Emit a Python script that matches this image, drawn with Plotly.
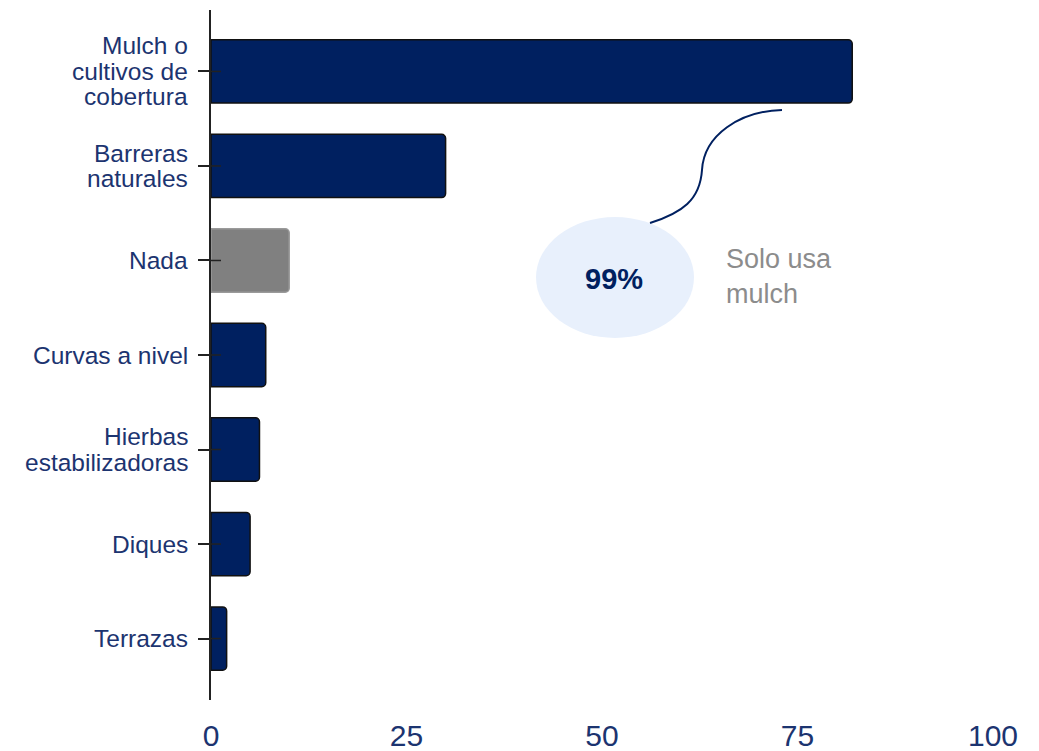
import plotly.graph_objects as go

categories = ["Mulch o<br>cultivos de<br>cobertura", "Barreras<br>naturales", "Nada",
              "Curvas a nivel", "Hierbas<br>estabilizadoras", "Diques", "Terrazas"]
values = [82, 30, 10, 7, 6.2, 5, 2]
bar_colors = ["#002060", "#002060", "#808080", "#002060", "#002060", "#002060", "#002060"]
bar_lines = ["#111111", "#111111", "#9a9a9a", "#111111", "#111111", "#111111", "#111111"]
x_ticks = [0, 25, 50, 75, 100]
callout_value = "99%"
callout_text = "Solo usa<br>mulch"

NAVY = "#1c3470"
FONT = "Liberation Sans, Arial, sans-serif"

fig = go.Figure()
fig.add_trace(go.Bar(
    x=values, y=categories, orientation="h",
    width=0.67,
    marker=dict(color=bar_colors, line=dict(color=bar_lines, width=1.5), cornerradius=4),
    showlegend=False, hoverinfo="skip",
))

OFF = 8  # page offset of the figure inside the browser window
W, H = 1039, 751
L, R, T, B = 203, 54, 2, 59
pw = W - L - R
ph = H - T - B

def px(x):
    return (x - OFF - L) / pw

def py(y):
    return 1 - (y - OFF - T) / ph

shapes = []
# inner half of the crossing tick marks
for c in categories:
    shapes.append(dict(type="line", xref="paper", yref="y", x0=0, x1=10 / pw, y0=c, y1=c,
                       line=dict(color="#222222", width=1.5), layer="above"))

# callout ellipse
shapes.append(dict(type="circle", xref="paper", yref="paper",
                   x0=px(536), x1=px(694), y0=py(338), y1=py(217),
                   fillcolor="#e8f0fc", line=dict(width=0), layer="below"))
# connector curve
path = "M {},{} C {},{} {},{} {},{} C {},{} {},{} {},{}".format(
    px(782), py(110), px(740), py(111), px(704), py(135), px(702), py(170),
    px(700), py(200), px(682), py(213), px(650), py(223))
shapes.append(dict(type="path", xref="paper", yref="paper", path=path,
                   line=dict(color="#002060", width=2)))

annotations = [
    dict(xref="paper", yref="paper", x=px(614), y=py(279), text="<b>" + callout_value + "</b>",
         showarrow=False, font=dict(family=FONT, size=29, color="#002060"),
         xanchor="center", yanchor="middle"),
    dict(xref="paper", yref="paper", x=px(724), y=py(276), text=callout_text,
         showarrow=False, font=dict(family=FONT, size=27, color="#8c8c8c"),
         xanchor="left", yanchor="middle", align="left"),
]

# category labels, one annotation per line for tight line spacing
LINE_H = 25.5
for c in categories:
    parts = c.split("<br>")
    n = len(parts)
    for i, part in enumerate(parts):
        annotations.append(dict(
            xref="paper", yref="y", x=0, y=c, text=part, showarrow=False,
            xanchor="right", yanchor="middle", xshift=-21,
            yshift=((n - 1) / 2 - i) * LINE_H,
            font=dict(family=FONT, size=24.5, color=NAVY)))

fig.update_layout(
    width=W, height=H,
    margin=dict(l=L, r=R, t=T, b=B, autoexpand=False),
    paper_bgcolor="white", plot_bgcolor="white",
    font=dict(family=FONT, color=NAVY),
    shapes=shapes, annotations=annotations,
    xaxis=dict(range=[0, 100], tickvals=x_ticks, showgrid=False, zeroline=False,
               showline=False, ticks="", tickfont=dict(size=30, color=NAVY, family=FONT),
               ticklabelstandoff=15, fixedrange=True),
    yaxis=dict(categoryorder="array", categoryarray=categories, range=[6.65, -0.65],
               showgrid=False, zeroline=False, showline=True, linecolor="#222222", linewidth=1.5,
               ticks="outside", ticklen=11, tickwidth=1.5, tickcolor="#222222",
               showticklabels=False),
)

fig.write_html("out.html")
